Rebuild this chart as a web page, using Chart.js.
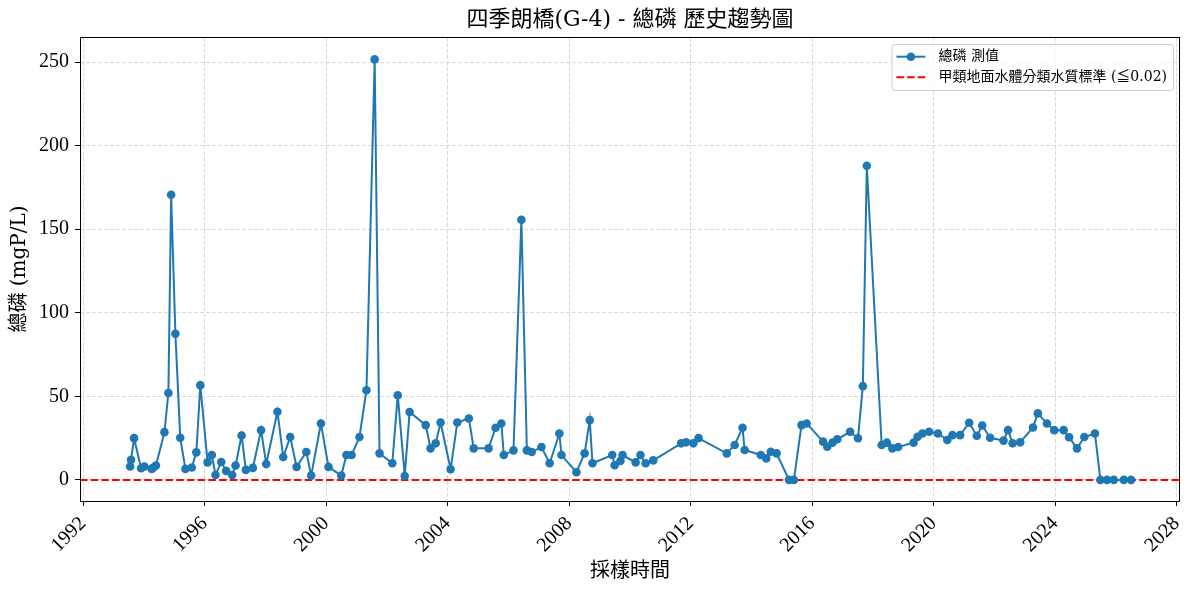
<!DOCTYPE html>
<html>
<head>
<meta charset="utf-8">
<title>四季朗橋(G-4) - 總磷 歷史趨勢圖</title>
<script src="https://cdn.jsdelivr.net/npm/chart.js@4.4.1/dist/chart.umd.min.js"></script>
<style>
  html, body { margin: 0; padding: 0; background: #fff; }
  #wrap { width: 1189px; height: 590px; position: relative; }
</style>
</head>
<body>
<div id="wrap"><canvas id="trend"></canvas></div>
<script>
// sampling dates as decimal years
const sampleYears = [
  1993.55, 1993.58, 1993.68, 1993.91, 1994.02, 1994.26, 1994.32, 1994.40, 1994.68, 1994.81,
  1994.90, 1995.04, 1995.20, 1995.37, 1995.58, 1995.73, 1995.86, 1996.10, 1996.24, 1996.36,
  1996.55, 1996.71, 1996.91, 1997.02, 1997.22, 1997.36, 1997.59, 1997.86, 1998.03, 1998.40,
  1998.59, 1998.82, 1999.03, 1999.35, 1999.51, 1999.83, 2000.08, 2000.50, 2000.67,
  2000.84, 2001.10, 2001.33, 2001.60, 2001.76, 2002.18, 2002.36, 2002.59, 2002.75, 2003.28,
  2003.44, 2003.61, 2003.77, 2004.10, 2004.32, 2004.70, 2004.86, 2005.35, 2005.58, 2005.77,
  2005.85, 2006.17, 2006.43, 2006.61, 2006.77, 2007.09, 2007.36, 2007.68, 2007.75, 2008.24,
  2008.51, 2008.68, 2008.77, 2009.42, 2009.50, 2009.69, 2009.76, 2010.19, 2010.35, 2010.52,
  2010.77, 2011.69, 2011.85, 2012.09, 2012.26, 2013.19, 2013.45, 2013.71, 2013.78, 2014.31,
  2014.49, 2014.64, 2014.83, 2015.24, 2015.40, 2015.65, 2015.82, 2016.36, 2016.50, 2016.67,
  2016.83,
  2017.25, 2017.51, 2017.67, 2017.80, 2018.29, 2018.46, 2018.64, 2018.83, 2019.34, 2019.47,
  2019.63, 2019.85, 2020.14, 2020.45, 2020.62, 2020.87, 2021.17, 2021.42, 2021.60, 2021.86,
  2022.30, 2022.45, 2022.60, 2022.85, 2023.27, 2023.43, 2023.73, 2023.97, 2024.28, 2024.46,
  2024.72, 2024.96, 2025.31, 2025.49, 2025.71, 2025.93, 2026.26, 2026.50
];
// 總磷 (mgP/L)
const phosphorus = [
  8, 12, 25, 7, 8, 6.6, 7.4, 8.6, 28.6, 52,
  170.6, 87.5, 25.2, 6.6, 7.4, 16.5, 56.7, 10.5, 14.9, 3,
  10.7, 5.4, 3, 8.6, 26.6, 6, 7.2, 29.8, 9.5, 40.8,
  13.7, 25.7, 7.8, 16.7, 2.6, 33.8, 7.8, 2.6, 14.9,
  14.9, 25.7, 53.7, 251.6, 15.9, 10, 50.7, 2.4, 40.6, 32.8,
  18.9, 21.9, 34.4, 6.4, 34.4, 36.8, 18.9, 18.9, 31.2, 33.8,
  14.9, 17.7, 155.7, 17.7, 16.7, 19.7, 10, 27.8, 14.9, 4.6,
  15.9, 35.8, 10, 14.9, 8.8, 11.3, 14.9, 10.5, 14.9, 10,
  11.7, 21.9, 22.5, 21.9, 25, 15.9, 20.9, 31.2, 17.9, 14.9,
  12.9, 16.9, 15.9, 0.02, 0.02, 32.8, 33.8, 22.9, 19.9, 22.3,
  24.3,
  28.8, 24.9, 56.1, 188, 20.9, 22.3, 18.9, 19.7, 22.3, 25.8,
  27.8, 28.8, 27.8, 23.9, 26.8, 26.8, 34.2, 26.4, 32.6, 25.2,
  23.5, 29.8, 21.9, 22.5, 31.4, 39.8, 33.8, 29.8, 29.8, 25.5,
  18.9, 25.7, 27.8, 0.02, 0.02, 0.02, 0.02, 0.02
];
const standardLimit = 0.02;
const xTickYears = [1992, 1996, 2000, 2004, 2008, 2012, 2016, 2020, 2024, 2028];
const yTickValues = [0, 50, 100, 150, 200, 250];
const xRange = [1991.9, 2028.11];
const yRange = [-12.6, 265];

const titleText = '四季朗橋(G-4) - 總磷 歷史趨勢圖';
const seriesLabel = '總磷 測值';
const limitLabel = '甲類地面水體分類水質標準 (≦0.02)';

const blue = '#1f77b4';
const labelFont = "'DejaVu Serif', 'Noto Sans CJK TC', serif";
const tickFont = "'Liberation Serif', 'DejaVu Serif', serif";

// title centred over the plot, legend inside upper right, full frame
const decorations = {
  id: 'decorations',
  afterDraw(chart) {
    const ctx = chart.ctx;
    const a = chart.chartArea;
    ctx.save();

    ctx.strokeStyle = '#000';
    ctx.lineWidth = 1;
    ctx.strokeRect(a.left + 0.5, a.top + 0.5, a.right - a.left - 1, a.bottom - a.top);

    ctx.fillStyle = '#000';
    ctx.font = '22px ' + labelFont;
    ctx.textAlign = 'center';
    ctx.textBaseline = 'middle';
    ctx.fillText(titleText, (a.left + a.right) / 2, 20);

    ctx.font = '14px ' + labelFont;
    const w = Math.max(ctx.measureText(seriesLabel).width, ctx.measureText(limitLabel).width);
    const boxW = 47 + w + 6;
    const boxH = 46;
    const bx = a.right - 7 - boxW;
    const by = a.top + 7;
    ctx.beginPath();
    ctx.roundRect(bx + 0.5, by + 0.5, boxW, boxH, 3);
    ctx.fillStyle = 'rgba(255,255,255,0.8)';
    ctx.fill();
    ctx.strokeStyle = '#cccccc';
    ctx.stroke();

    const r1 = by + 12.7, r2 = by + 33.3;
    ctx.strokeStyle = blue;
    ctx.lineWidth = 2;
    ctx.beginPath();
    ctx.moveTo(bx + 5, r1);
    ctx.lineTo(bx + 34, r1);
    ctx.stroke();
    ctx.fillStyle = blue;
    ctx.beginPath();
    ctx.arc(bx + 19.5, r1, 4.3, 0, Math.PI * 2);
    ctx.fill();

    ctx.strokeStyle = 'red';
    ctx.setLineDash([7.5, 3.2]);
    ctx.beginPath();
    ctx.moveTo(bx + 5, r2);
    ctx.lineTo(bx + 34, r2);
    ctx.stroke();
    ctx.setLineDash([]);

    ctx.fillStyle = '#000';
    ctx.textAlign = 'left';
    ctx.fillText(seriesLabel, bx + 47, r1);
    ctx.fillText(limitLabel, bx + 47, r2);
    ctx.restore();
  }
};

const ctx = document.getElementById('trend');

const gridStyle = {
  color: '#d0d0d0',
  lineWidth: 0.8,
  tickColor: '#000',
  tickLength: 5,
  tickWidth: 1,
  tickBorderDash: []
};

const chart = new Chart(ctx, {
  type: 'line',
  data: {
    datasets: [
      {
        label: seriesLabel,
        data: sampleYears.map((t, i) => ({ x: t, y: phosphorus[i] })),
        borderColor: blue,
        backgroundColor: blue,
        borderWidth: 2,
        pointRadius: 4.3,
        pointBorderWidth: 0,
        pointBackgroundColor: blue,
        tension: 0
      },
      {
        label: limitLabel,
        data: xRange.map(t => ({ x: t, y: standardLimit })),
        borderColor: 'red',
        borderWidth: 2,
        borderDash: [7.5, 3.2],
        pointRadius: 0,
        tension: 0
      }
    ]
  },
  options: {
    responsive: true,
    maintainAspectRatio: false,
    animation: false,
    layout: { padding: { left: 0, right: 9, top: 37, bottom: 0 } },
    plugins: {
      legend: { display: false },
      title: { display: false },
      tooltip: { enabled: false }
    },
    scales: {
      x: {
        type: 'linear',
        min: xRange[0],
        max: xRange[1],
        afterBuildTicks: s => { s.ticks = xTickYears.map(v => ({ value: v })); },
        afterFit: s => { s.height = 89; s.paddingLeft = 0; s.paddingRight = 0; },
        ticks: {
          callback: v => String(v),
          minRotation: 45,
          maxRotation: 45,
          autoSkip: false,
          color: '#000',
          padding: 6,
          font: { family: tickFont, size: 20 }
        },
        grid: gridStyle,
        border: { display: false, dash: [4, 2] },
        title: {
          display: true,
          text: '採樣時間',
          color: '#000',
          font: { family: labelFont, size: 20 },
          padding: { top: 0, bottom: 6 }
        }
      },
      y: {
        min: yRange[0],
        max: yRange[1],
        afterBuildTicks: s => { s.ticks = yTickValues.map(v => ({ value: v })); },
        afterFit: s => { s.width = 80; s.paddingTop = 0; s.paddingBottom = 0; },
        ticks: {
          callback: v => String(v),
          color: '#000',
          padding: 6,
          font: { family: tickFont, size: 20 }
        },
        grid: gridStyle,
        border: { display: false, dash: [4, 2] },
        title: {
          display: true,
          text: '總磷 (mgP/L)',
          color: '#000',
          font: { family: labelFont, size: 20 },
          padding: { top: 8, bottom: 0 }
        }
      }
    }
  },
  plugins: [decorations]
});
</script>
</body>
</html>
